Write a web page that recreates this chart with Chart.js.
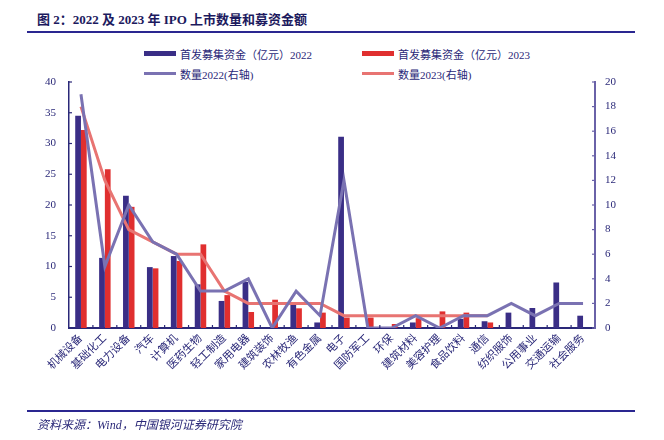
<!DOCTYPE html>
<html>
<head>
<meta charset="utf-8">
<script src="https://cdn.jsdelivr.net/npm/chart.js@4/dist/chart.umd.min.js"></script>
<style>
  body { margin: 0; width: 664px; height: 440px; background: #fff; position: relative; overflow: hidden;
         font-family: 'Liberation Serif', 'Noto Sans CJK SC', serif; color: #2a2878; }
  #c { position: absolute; left: 0; top: 0; }
  .title { position: absolute; left: 37px; top: 9px; font-size: 13px; font-weight: bold; color: #1c1a5e; white-space: nowrap; }
  .rule { position: absolute; left: 27px; width: 608px; height: 2px; background: #2a2690; }
  .legend { position: absolute; font-size: 11px; white-space: nowrap; color: #2a2878; }
  .legend span.sw { position: absolute; left: 0; width: 32px; }
  .legend span.tx { position: absolute; left: 36px; top: -7px; }
  .source { position: absolute; left: 37px; top: 415px; font-size: 12px; font-style: italic; color: #2a2878; white-space: nowrap; }
</style>
</head>
<body>
<div class="title">图 2：2022 及 2023 年 IPO 上市数量和募资金额</div>
<div class="rule" style="top:31px"></div>
<div id="legend"></div>
<canvas id="c" width="664" height="440"></canvas>
<div class="rule" style="top:410px"></div>
<div class="source">资料来源：Wind，中国银河证券研究院</div>
<script>
// 行业分类
const categories = ['机械设备', '基础化工', '电力设备', '汽车', '计算机', '医药生物', '轻工制造', '家用电器',
    '建筑装饰', '农林牧渔', '有色金属', '电子', '国防军工', '环保', '建筑材料', '美容护理', '食品饮料',
    '通信', '纺织服饰', '公用事业', '交通运输', '社会服务'];

// 首发募集资金（亿元）
const raised2022 = [34.5, 11.4, 21.5, 9.9, 11.7, 7.1, 4.4, 7.5, 0, 4.2, 0.9, 31.1, 0, 0, 0.9, 0, 1.5, 1.1, 2.5, 3.25, 7.4, 2.0];
const raised2023 = [32.2, 25.8, 19.7, 9.7, 10.9, 13.6, 5.35, 2.6, 4.6, 3.2, 2.5, 1.7, 1.7, 0.65, 1.6, 2.7, 2.5, 0.9, 0, 0, 0, 0];

// 上市数量（右轴）
const count2022 = [19, 5, 10, 7, 6, 3, 3, 4, 0, 3, 1, 12, 0, 0, 1, 0, 1, 1, 2, 1, 2, 2];
const count2023 = [18, 12, 8, 7, 6, 6, 3, 2, 2, 2, 2, 1, 1, 1, 1, 1, 1, 1, null, null, null, null];

// 坐标轴刻度
const leftTicks = { min: 0, max: 40, step: 5 };
const rightTicks = { min: 0, max: 20, step: 2 };

const NAVY = '#2a2878';
const FONT = "'Liberation Serif', 'Noto Sans CJK SC', serif";

const datasets = [
    { type: 'bar', label: '首发募集资金（亿元）2022', data: raised2022, backgroundColor: '#3a2e86', yAxisID: 'y', order: 2 },
    { type: 'bar', label: '首发募集资金（亿元）2023', data: raised2023, backgroundColor: '#e02f2f', yAxisID: 'y', order: 2 },
    { type: 'line', label: '数量2022(右轴)', data: count2022, borderColor: '#7a72b2', borderWidth: 3,
      pointRadius: 0, tension: 0, yAxisID: 'y1', order: 0 },
    { type: 'line', label: '数量2023(右轴)', data: count2023, borderColor: '#e87472', borderWidth: 3,
      pointRadius: 0, tension: 0, yAxisID: 'y1', order: 1, spanGaps: false }
];

// 图例（两行两列）
const legendPos = [[144, 53], [362, 53], [144, 73], [362, 73]];
const legendEl = document.getElementById('legend');
datasets.forEach((d, i) => {
    const box = document.createElement('div');
    box.className = 'legend';
    box.style.left = legendPos[i][0] + 'px';
    box.style.top = legendPos[i][1] + 'px';
    const sw = document.createElement('span');
    sw.className = 'sw';
    const h = d.type === 'bar' ? 5 : 3;
    sw.style.height = h + 'px';
    sw.style.top = (-h / 2) + 'px';
    sw.style.background = d.type === 'bar' ? d.backgroundColor : d.borderColor;
    const tx = document.createElement('span');
    tx.className = 'tx';
    tx.textContent = d.label;
    box.appendChild(sw);
    box.appendChild(tx);
    legendEl.appendChild(box);
});

// 向内的小刻度线
const innerTicks = {
    id: 'innerTicks',
    afterDraw(chart) {
        const { ctx, chartArea: a, scales } = chart;
        ctx.save();
        ctx.lineWidth = 1.2;
        ctx.strokeStyle = NAVY;
        scales.y.ticks.forEach(t => {
            const y = scales.y.getPixelForValue(t.value);
            ctx.beginPath(); ctx.moveTo(a.left, y); ctx.lineTo(a.left + 3, y); ctx.stroke();
        });
        const n = categories.length;
        for (let i = 1; i < n; i++) {
            const x = a.left + (a.right - a.left) * i / n;
            ctx.beginPath(); ctx.moveTo(x, a.bottom); ctx.lineTo(x, a.bottom - 3); ctx.stroke();
        }
        ctx.strokeStyle = '#6a62a8';
        scales.y1.ticks.forEach(t => {
            const y = scales.y1.getPixelForValue(t.value);
            ctx.beginPath(); ctx.moveTo(a.right - 3, y); ctx.lineTo(a.right, y); ctx.stroke();
        });
        ctx.restore();
    }
};

new Chart(document.getElementById('c'), {
    data: { labels: categories, datasets: datasets },
    plugins: [innerTicks],
    options: {
        responsive: false,
        animation: false,
        layout: { padding: { top: 82, left: 0, right: 0, bottom: 0 } },
        datasets: { bar: { categoryPercentage: 0.48, barPercentage: 1 } },
        plugins: { legend: { display: false }, tooltip: { enabled: false } },
        scales: {
            x: {
                grid: { display: false, drawTicks: false },
                border: { display: true, color: NAVY, width: 2 },
                ticks: { color: NAVY, font: { family: FONT, size: 11 }, minRotation: 45, maxRotation: 45, padding: 4, autoSkip: false },
                afterFit: s => { s.height = 112; }
            },
            y: {
                position: 'left', min: leftTicks.min, max: leftTicks.max,
                grid: { display: false, drawTicks: false },
                border: { display: true, color: NAVY, width: 1.5 },
                ticks: { stepSize: leftTicks.step, color: NAVY, font: { family: FONT, size: 11 }, padding: 13 },
                afterFit: s => { s.width = 69; }
            },
            y1: {
                position: 'right', min: rightTicks.min, max: rightTicks.max,
                grid: { display: false, drawTicks: false },
                border: { display: true, color: '#6a62a8', width: 2 },
                ticks: { stepSize: rightTicks.step, color: NAVY, font: { family: FONT, size: 11 }, padding: 10 },
                afterFit: s => { s.width = 69; }
            }
        }
    }
});
</script>
</body>
</html>
